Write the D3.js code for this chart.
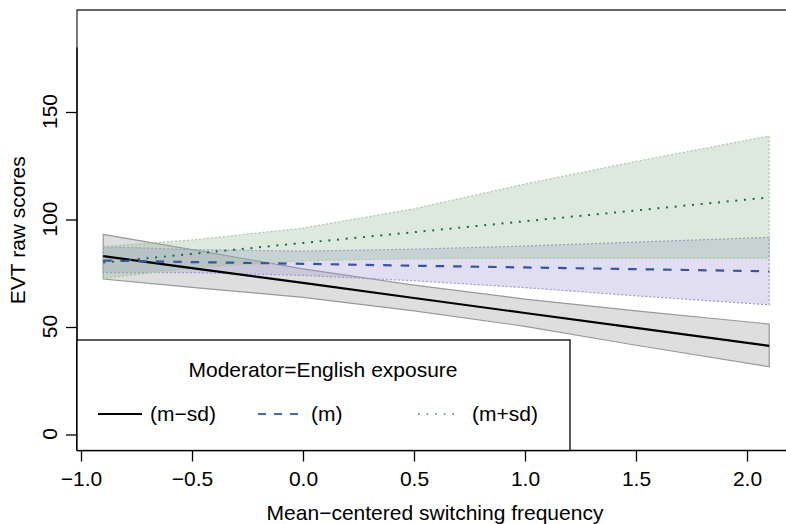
<!DOCTYPE html>
<html>
<head>
<meta charset="utf-8">
<script src="https://cdn.jsdelivr.net/npm/d3@7"></script>
<style>
  body { margin: 0; background: #fff; }
  svg text { font-family: "Liberation Sans", Arial, Helvetica, sans-serif; fill: #000; }
</style>
</head>
<body>
<svg id="chart" width="786" height="524"></svg>
<script>
// Simple slopes plot: EVT raw scores by switching frequency, moderated by English exposure

// x positions where lines and confidence bands were read
const xVals = [-0.9, -0.5, 0, 0.5, 1.0, 1.5, 2.1];

// fitted lines
const lowFit  = [83.0, 77.4, 70.5, 63.5, 56.5, 49.6, 41.2];   // (m-sd)
const midFit  = [80.9, 80.2, 79.4, 78.5, 77.7, 76.9, 75.9];   // (m)
const highFit = [80.0, 84.0, 89.1, 94.1, 99.2, 104.2, 110.3]; // (m+sd)

// confidence bands
const lowUpper  = [93.1, 86.0, 77.0, 69.5, 63.0, 57.5, 51.4];
const lowLower  = [72.3, 68.4, 63.8, 57.5, 50.3, 41.5, 31.5];
const midUpper  = [87.3, 86.0, 85.3, 86.2, 87.7, 89.5, 91.7];
const midLower  = [75.3, 75.3, 74.0, 71.5, 68.3, 64.5, 60.3];
const highUpper = [87.4, 90.5, 96.0, 105.0, 116.5, 127.0, 138.8];
const highLower = [72.6, 77.5, 80.8, 81.8, 82.0, 82.0, 82.0];

const xTicks = [-1.0, -0.5, 0.0, 0.5, 1.0, 1.5, 2.0];
const yTicks = [0, 50, 100, 150];
const legendLabels = ["(m\u2212sd)", "(m)", "(m+sd)"];

const svg = d3.select("#chart");
const fs = "21px";

const x = d3.scaleLinear().domain([-1, 2]).range([81, 747]);
const y = d3.scaleLinear().domain([0, 150]).range([434.5, 112]);

const plotTop = 10, plotBottom = 450.5, plotLeft = 77, plotRight = 793;

const series = [
    { fit: lowFit, upper: lowUpper, lower: lowLower,
      fill: "#dedede", fillOpacity: 1, edge: "#999", edgeDash: null, edgeWidth: 1.2,
      color: "#000", dash: null, width: 2.2 },
    { fit: midFit, upper: midUpper, lower: midLower,
      fill: "rgb(152,145,205)", fillOpacity: 0.3, edge: "#9c9ad6", edgeDash: "2,2", edgeWidth: 1.2,
      color: "#3653a8", dash: "8.5,9", width: 2.2 },
    { fit: highFit, upper: highUpper, lower: highLower,
      fill: "rgb(142,182,142)", fillOpacity: 0.3, edge: "#a9c9a9", edgeDash: "2,2", edgeWidth: 1.2,
      color: "#1e6b3c", dash: "2,6.7", width: 2 }
];

const area = d3.area()
    .x(d => x(d.x))
    .y0(d => y(d.lo))
    .y1(d => y(d.hi));

const line = d3.line()
    .x(d => x(d.x))
    .y(d => y(d.v));

const bands = svg.append("g");
const lines = svg.append("g");

series.forEach(s => {
    const pts = xVals.map((xv, i) => ({ x: xv, lo: s.lower[i], hi: s.upper[i] }));
    bands.append("path")
        .attr("d", area(pts))
        .attr("fill", s.fill)
        .attr("fill-opacity", s.fillOpacity)
        .attr("stroke", "none");
    // band outline (closed polygon)
    const outline = pts.map(p => [x(p.x), y(p.hi)])
        .concat(pts.slice().reverse().map(p => [x(p.x), y(p.lo)]));
    bands.append("path")
        .attr("d", "M" + outline.join("L") + "Z")
        .attr("fill", "none")
        .attr("stroke", s.edge)
        .attr("stroke-width", s.edgeWidth)
        .attr("stroke-dasharray", s.edgeDash);
});

series.forEach(s => {
    lines.append("path")
        .attr("d", line(xVals.map((xv, i) => ({ x: xv, v: s.fit[i] }))))
        .attr("fill", "none")
        .attr("stroke", s.color)
        .attr("stroke-width", s.width)
        .attr("stroke-dasharray", s.dash)
        .attr("stroke-linecap", "butt");
});

// plot box (top and left)
svg.append("path")
    .attr("d", `M${plotLeft},${plotBottom}V${plotTop}H${plotRight}`)
    .attr("fill", "none")
    .attr("stroke", "#333")
    .attr("stroke-width", 1.3);

// y axis
const yAxis = svg.append("g").attr("transform", `translate(${plotLeft},0)`)
    .call(d3.axisLeft(y).tickValues(yTicks).tickSize(11).tickFormat(d3.format("d")));
yAxis.select(".domain").attr("d", `M0,${plotBottom}V${y(180)}`).attr("stroke", "#000").attr("stroke-width", 1.3);
yAxis.selectAll(".tick line").attr("stroke", "#000").attr("stroke-width", 1.3);
yAxis.selectAll(".tick text")
    .attr("x", null).attr("dy", null)
    .attr("transform", "translate(-20,-1) rotate(-90)")
    .attr("text-anchor", "middle")
    .style("font-size", fs);

// x axis
const xAxis = svg.append("g").attr("transform", `translate(0,${plotBottom})`)
    .call(d3.axisBottom(x).tickValues(xTicks).tickSize(11)
        .tickFormat(d => d3.format(".1f")(d).replace("-", "\u2212")));
xAxis.select(".domain").attr("d", `M${plotLeft},0H${plotRight}`).attr("stroke", "#000").attr("stroke-width", 1.3);
xAxis.selectAll(".tick line").attr("stroke", "#000").attr("stroke-width", 1.3);
xAxis.selectAll(".tick text").attr("y", 21).style("font-size", fs);

// axis titles
svg.append("text")
    .attr("x", (plotLeft + plotRight) / 2).attr("y", 520)
    .attr("text-anchor", "middle")
    .style("font-size", fs)
    .text("Mean\u2212centered switching frequency");

svg.append("text")
    .attr("transform", `translate(25,${(plotTop + plotBottom) / 2}) rotate(-90)`)
    .attr("text-anchor", "middle")
    .style("font-size", fs)
    .text("EVT raw scores");

// legend
const legend = svg.append("g");
legend.append("rect")
    .attr("x", plotLeft).attr("y", 340)
    .attr("width", 570 - plotLeft).attr("height", plotBottom - 340)
    .attr("fill", "#fff")
    .attr("stroke", "#000")
    .attr("stroke-width", 1.3);

legend.append("text")
    .attr("x", 323).attr("y", 377)
    .attr("text-anchor", "middle")
    .style("font-size", fs)
    .text("Moderator=English exposure");

const legendX = [98, 258, 418];
const legendW = [44, 44, 40];
const legendTextX = [150, 311, 472];
legendLabels.forEach((lab, i) => {
    const s = series[i];
    legend.append("line")
        .attr("x1", legendX[i]).attr("x2", legendX[i] + legendW[i])
        .attr("y1", 414).attr("y2", 414)
        .attr("stroke", i === 2 ? "#2e8b57" : (i === 1 ? "#4566c4" : s.color))
        .attr("stroke-width", i === 2 ? 1.6 : 2.2)
        .attr("stroke-dasharray", i === 1 ? "8,8" : (i === 2 ? "1.6,7" : null));
    legend.append("text")
        .attr("x", legendTextX[i]).attr("y", 421)
        .style("font-size", fs)
        .text(lab);
});
</script>
</body>
</html>
